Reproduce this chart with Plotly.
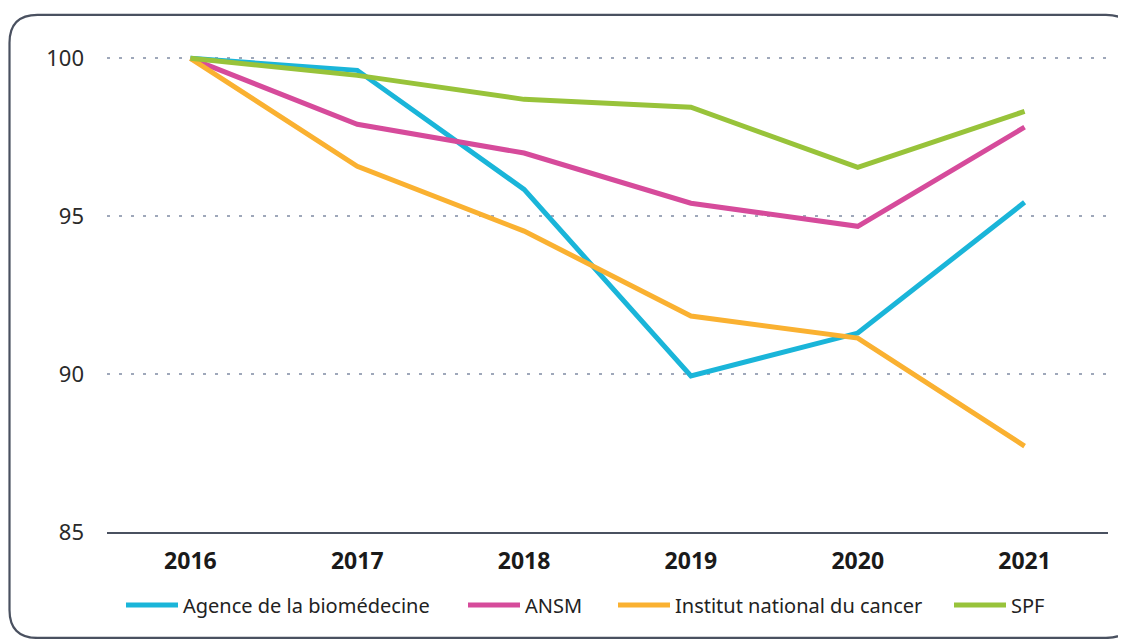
import plotly.graph_objects as go

years = ["2016", "2017", "2018", "2019", "2020", "2021"]
agence = [100, 99.62, 95.85, 89.94, 91.3, 95.44]
ansm = [100, 97.91, 97.0, 95.41, 94.68, 97.82]
inca = [100, 96.58, 94.53, 91.84, 91.14, 87.72]
spf = [100, 99.46, 98.70, 98.45, 96.55, 98.32]

names = ["Agence de la biomédecine", "ANSM", "Institut national du cancer", "SPF"]
colors = ["#1AB5D9", "#D64B9B", "#FAB131", "#98C33A"]
values = [agence, ansm, inca, spf]

# page is offset by 8px body margin
OFF = 8
W, H = 1126 - OFF, 639 - OFF
L, R = 107 - OFF, 18
ymin, ymax = 85, 100.2
ppu = 31.6
y85 = 532 - OFF
ph = (ymax - ymin) * ppu
T = y85 - ph
B = H - y85
pw = W - L - R

def px2paper(sx, sy):
    # screen coords -> paper coords
    x, y = sx - OFF, sy - OFF
    return (x - L) / pw, (y85 - y) / ph

fig = go.Figure()
legend_ids = ["legend", "legend2", "legend3", "legend4"]
for name, vals, col, lid in zip(names, values, colors, legend_ids):
    fig.add_trace(go.Scatter(x=years, y=vals, name=name, mode="lines",
                             line=dict(color=col, width=5), cliponaxis=False,
                             legend=lid))

# rounded border (screen coords)
x0, y0, x1, y1 = 9.5, 14.5, 1134, 638
r = 28
def P(x, y):
    a, b = px2paper(x, y)
    return f"{a:.5f},{b:.5f}"
path = (f"M {P(x0+r, y0)} L {P(x1-r, y0)} Q {P(x1, y0)} {P(x1, y0+r)} "
        f"L {P(x1, y1-r)} Q {P(x1, y1)} {P(x1-r, y1)} L {P(x0+r, y1)} "
        f"Q {P(x0, y1)} {P(x0, y1-r)} L {P(x0, y0+r)} Q {P(x0, y0)} {P(x0+r, y0)} Z")
fig.add_shape(type="path", path=path, xref="paper", yref="paper",
              line=dict(color="#4A5160", width=2.2), layer="below")

legend_x_screen = [121, 463, 613, 949]
ly = px2paper(0, 605)[1]
leg_common = dict(orientation="h", xanchor="left", yanchor="middle", y=ly,
                  font=dict(size=20, family="Noto Sans", color="#222222"),
                  bgcolor="rgba(0,0,0,0)", borderwidth=0, itemwidth=52)
legends = {}
for lid, sx in zip(legend_ids, legend_x_screen):
    legends[lid] = dict(leg_common, x=px2paper(sx, 0)[0])

fig.update_layout(
    width=W, height=H,
    margin=dict(l=L, r=R, t=T, b=B),
    paper_bgcolor="white", plot_bgcolor="white",
    font=dict(family="Noto Sans", color="#222222"),
    showlegend=True,
    xaxis=dict(type="category", range=[-0.5, 5.5], showgrid=False,
               showline=True, linecolor="#4A5160", linewidth=2,
               ticks="", tickfont=dict(size=23, family="Noto Sans", weight="bold", color="#1A1A1A"),
               ticklabelstandoff=7, zeroline=False),
    yaxis=dict(range=[ymin, ymax], tickvals=[85, 90, 95, 100], showgrid=True,
               gridcolor="#9FA8BA", griddash="3px,9px", gridwidth=2,
               showline=False, zeroline=False, ticks="",
               tickfont=dict(size=22, color="#2A2A2A"), ticklabelstandoff=22),
    **legends,
)

fig.write_html("out.html")
